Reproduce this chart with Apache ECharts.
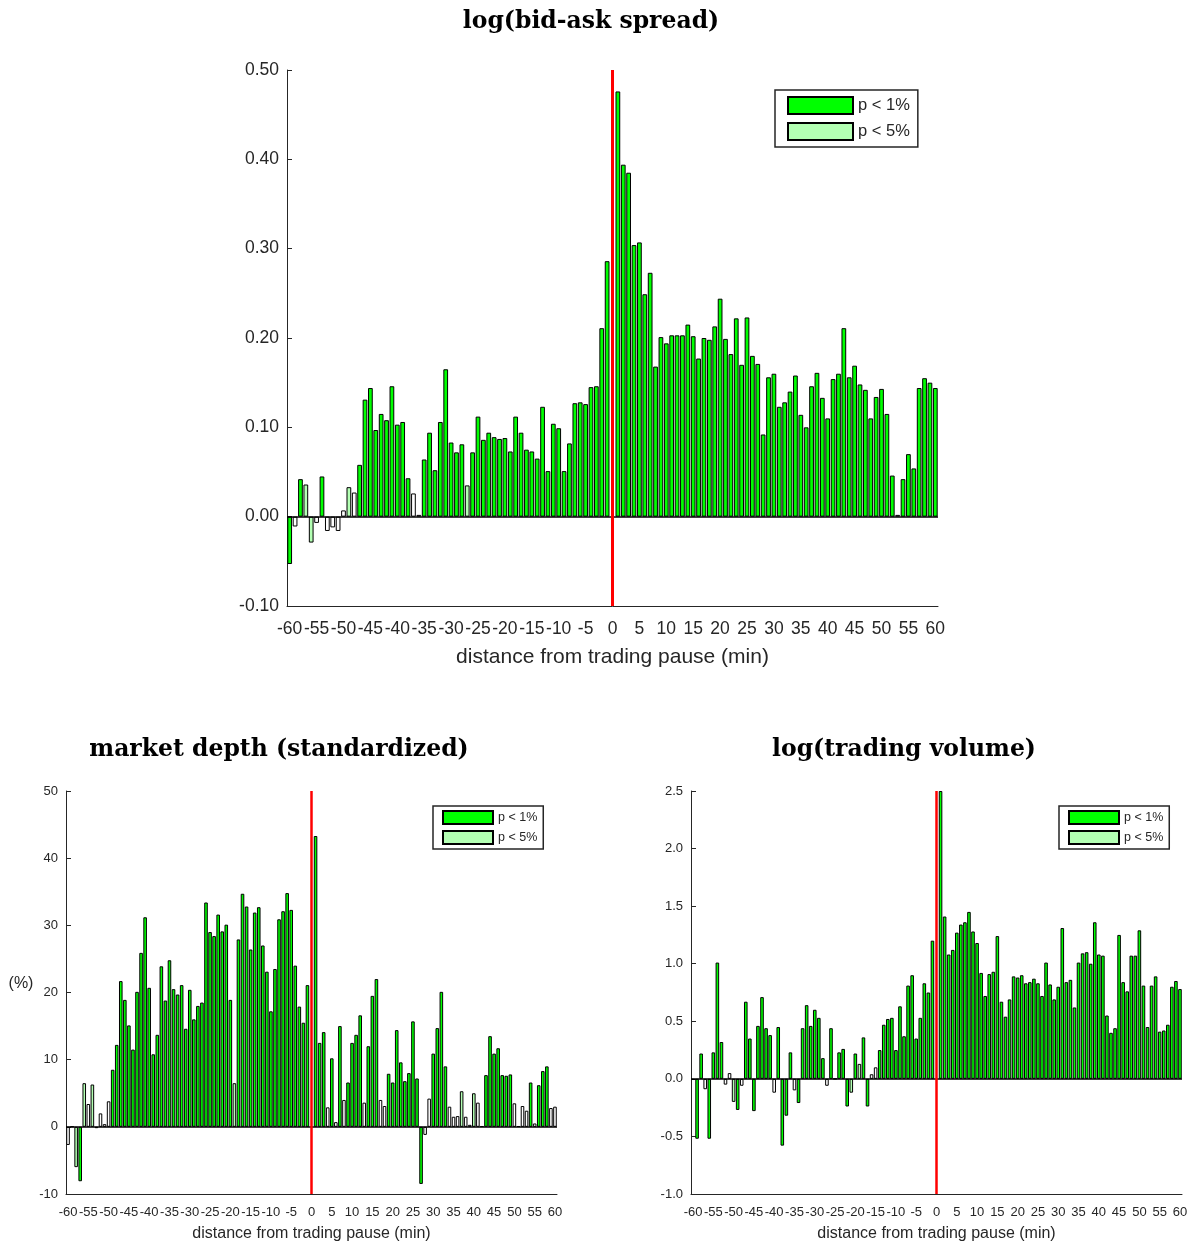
<!DOCTYPE html>
<html lang="en">
<head>
    <meta charset="UTF-8">
    <title>Trading pause event study</title>
    <script src="https://cdn.jsdelivr.net/npm/echarts@6/dist/echarts.min.js"></script>
    <style>
        * {
            margin: 0;
            padding: 0;
            box-sizing: border-box;
        }

        body {
            background: #ffffff;
        }

        #chart {
            width: 1197px;
            height: 1246px;
        }
    </style>
</head>
<body>
    <div id="chart"></div>

    <script>
        // minutes around the trading pause: -60 .. 60
        const minutes = [];
        for (let m = -60; m <= 60; m++) minutes.push(String(m));

        // significance per bar, groups of ten from -60 (G = p < 1%, L = p < 5%, W = not significant)
        const spreadSig = 'GWGLLWGWWW WLWGGGGGGG GGGWWGGGGG GGGLGGGGGG GGGGGGGGGG GGGGGGGGGG W ' +
                          'GGGGGGGGGG GGGGGGGGGG GGGGGGGGGG GGGGGGGGGG GGGGGGGGGG GGWGGGGGGG';
        const depthSig  = 'WWLGLWLWWW WGGGGGGGGG GGGGGGGGGG GGGGGGGGGG GLGGGGGGGG GGGGGGGGGG W ' +
                          'GGGWGWGWGG GGWGGGWWGG GGGGGGGWWG GGGWWWLWWL WWGGGGGGGW WWWGWGGGWW';
        const volumeSig = 'WGGWGGGGWW LGWGGGGGGG WGGGGWGGGG GGGWGWGGGL GLGGWWGGGG GGGGGGGGGG W ' +
                          'GGGGGGGGGG GGGGGGGGGG GGGGGGGGGG GGGGGGGGGG GGGGGGGGGG GGGGGGGGGG';

        // log(bid-ask spread)
        const spreadVals = [
            -0.053, -0.011, 0.042, 0.036, -0.029, -0.007, 0.045, -0.016, -0.012, -0.016,
            0.007, 0.033, 0.027, 0.058, 0.131, 0.144, 0.097, 0.115, 0.108, 0.146,
            0.103, 0.106, 0.043, 0.026, 0.002, 0.064, 0.094, 0.052, 0.106, 0.165,
            0.083, 0.072, 0.081, 0.035, 0.072, 0.112, 0.086, 0.094, 0.089, 0.087,
            0.088, 0.073, 0.112, 0.094, 0.075, 0.073, 0.065, 0.123, 0.051, 0.104,
            0.099, 0.051, 0.082, 0.127, 0.128, 0.126, 0.145, 0.146, 0.211, 0.286,
            null,
            0.476, 0.394, 0.385, 0.304, 0.307, 0.249, 0.273, 0.168, 0.201, 0.194,
            0.203, 0.203, 0.203, 0.215, 0.202, 0.177, 0.200, 0.198, 0.213, 0.244,
            0.199, 0.182, 0.222, 0.170, 0.223, 0.180, 0.171, 0.092, 0.156, 0.160,
            0.123, 0.128, 0.140, 0.158, 0.114, 0.100, 0.146, 0.161, 0.133, 0.110,
            0.154, 0.160, 0.211, 0.156, 0.169, 0.148, 0.142, 0.110, 0.134, 0.143,
            0.115, 0.046, 0.002, 0.042, 0.070, 0.054, 0.144, 0.155, 0.150, 0.144
        ];

        // market depth (standardized), in %
        const depthVals = [
            -2.7, 0.05, -6.0, -8.1, 6.5, 3.4, 6.3, -0.2, 2.0, 0.4,
            3.8, 8.5, 12.2, 21.7, 18.9, 15.1, 11.5, 20.1, 25.9, 31.2,
            20.7, 10.8, 13.7, 23.9, 18.8, 24.8, 20.5, 19.7, 21.1, 14.6,
            20.4, 16.0, 18.0, 18.5, 33.4, 29.0, 28.4, 31.6, 29.1, 30.1,
            18.9, 6.5, 27.9, 34.7, 32.8, 26.4, 31.9, 32.7, 27.0, 23.1,
            17.2, 23.5, 30.9, 32.1, 34.8, 32.3, 24.0, 17.9, 15.5, 21.1,
            null,
            43.3, 12.5, 14.1, 2.9, 10.2, 0.7, 15.0, 4.0, 6.6, 12.5,
            13.7, 16.6, 3.6, 12.0, 19.5, 22.0, 4.0, 3.1, 7.9, 6.6,
            14.4, 9.6, 6.8, 8.0, 15.7, 7.2, -8.5, -1.2, 4.2, 10.9,
            14.7, 20.1, 9.0, 3.0, 1.5, 1.6, 5.3, 1.5, 0.3, 5.0,
            3.6, 0.1, 7.7, 13.5, 10.9, 11.7, 7.7, 7.6, 7.8, 3.5,
            0.1, 3.1, 2.4, 6.6, 0.5, 6.2, 8.3, 9.0, 2.8, 3.0
        ];

        // log(trading volume)
        const volumeVals = [
            -0.01, -0.52, 0.22, -0.09, -0.52, 0.23, 1.01, 0.32, -0.05, 0.05,
            -0.20, -0.27, -0.06, 0.67, 0.35, -0.28, 0.46, 0.71, 0.44, 0.38,
            -0.12, 0.45, -0.58, -0.32, 0.23, -0.10, -0.21, 0.44, 0.64, 0.46,
            0.60, 0.53, 0.18, -0.06, 0.44, 0.00, 0.23, 0.26, -0.24, -0.12,
            0.22, 0.13, 0.36, -0.24, 0.04, 0.10, 0.25, 0.47, 0.52, 0.53,
            0.25, 0.63, 0.37, 0.81, 0.90, 0.35, 0.53, 0.83, 0.75, 1.20,
            null,
            2.50, 1.41, 1.08, 1.12, 1.27, 1.34, 1.36, 1.45, 1.28, 1.18,
            0.92, 0.72, 0.91, 0.93, 1.24, 0.67, 0.54, 0.69, 0.89, 0.88,
            0.90, 0.83, 0.84, 0.87, 0.83, 0.72, 1.01, 0.82, 0.69, 0.80,
            1.31, 0.84, 0.86, 0.62, 1.01, 1.09, 1.10, 1.00, 1.36, 1.08,
            1.07, 0.55, 0.40, 0.44, 1.25, 0.84, 0.76, 1.07, 1.07, 1.29,
            0.81, 0.45, 0.81, 0.89, 0.41, 0.42, 0.47, 0.80, 0.85, 0.78
        ];

        const sans = "'Liberation Sans', Arial, sans-serif";
        const serif = "'DejaVu Serif', serif";
        const axisColor = '#262626';
        const levels = [
            { code: 'G', name: 'p < 1%', color: '#00ff00' },
            { code: 'L', name: 'p < 5%', color: '#b3ffb3' },
            { code: 'W', name: 'n.s.', color: '#ffffff' }
        ];

        // one bar series per significance level, overlapped on the same slots
        function barSeries(idx, vals, sig, redWidth) {
            const codes = sig.replace(/ /g, '');
            return levels.map((lv, i) => {
                const s = {
                    type: 'bar',
                    name: lv.name,
                    xAxisIndex: idx,
                    yAxisIndex: idx,
                    data: vals.map((v, j) => (codes[j] === lv.code ? v : null)),
                    barGap: '-100%',
                    barCategoryGap: '12%',
                    itemStyle: { color: lv.color, borderColor: '#000000', borderWidth: 1 },
                    emphasis: { disabled: true }
                };
                if (i === levels.length - 1) {
                    s.markLine = {
                        silent: true,
                        symbol: ['none', 'none'],
                        label: { show: false },
                        data: [
                            { yAxis: 0, lineStyle: { color: '#000000', width: 1.5, type: 'solid' } },
                            { xAxis: '0', lineStyle: { color: '#ff0000', width: redWidth, type: 'solid' } }
                        ]
                    };
                }
                return s;
            });
        }

        function xAxisFor(idx, fs, nameFs, nameGap, margin) {
            return {
                type: 'category',
                gridIndex: idx,
                data: minutes,
                axisLine: { onZero: false, lineStyle: { color: axisColor } },
                axisTick: { inside: true, alignWithLabel: true, interval: 0, length: 5, lineStyle: { color: axisColor } },
                axisLabel: { interval: 4, fontSize: fs, fontFamily: sans, color: axisColor, margin: margin },
                splitLine: { show: false },
                name: 'distance from trading pause (min)',
                nameLocation: 'middle',
                nameGap: nameGap,
                nameTextStyle: { fontSize: nameFs, fontFamily: sans, color: axisColor }
            };
        }

        function yAxisFor(idx, min, max, interval, digits, fs) {
            return {
                type: 'value',
                gridIndex: idx,
                min: min,
                max: max,
                interval: interval,
                axisLine: { show: true, lineStyle: { color: axisColor } },
                axisTick: { show: true, inside: true, length: 5, lineStyle: { color: axisColor } },
                axisLabel: {
                    fontSize: fs, fontFamily: sans, color: axisColor, margin: 8,
                    formatter: v => v.toFixed(digits)
                },
                splitLine: { show: false }
            };
        }

        function legendAt(left, top, big) {
            return {
                orient: 'vertical',
                left: left,
                top: top,
                data: ['p < 1%', 'p < 5%'],
                icon: 'rect',
                itemWidth: big ? 65 : 50,
                itemHeight: big ? 17 : 13,
                itemGap: big ? 7 : 5,
                padding: big ? [6, 8, 6, 12] : [4, 6, 4, 9],
                borderColor: axisColor,
                borderWidth: 1.5,
                selectedMode: false,
                textStyle: { fontSize: big ? 16.5 : 12.5, fontFamily: sans, color: axisColor }
            };
        }

        function plainText(text, x, y, font) {
            return {
                type: 'text',
                x: x,
                y: y,
                style: Object.assign({
                    text: text,
                    fill: '#000000',
                    align: 'center',
                    verticalAlign: 'middle'
                }, font)
            };
        }

        const titleFont = { fontFamily: serif, fontWeight: 'bold', fontSize: 23.5 };

        const chart = echarts.init(document.getElementById('chart'));
        chart.setOption({
            animation: false,
            backgroundColor: '#ffffff',
            grid: [
                { left: 287, top: 70, width: 651, height: 536 },
                { left: 66, top: 791, width: 491, height: 403 },
                { left: 691, top: 791, width: 491, height: 403 }
            ],
            xAxis: [
                xAxisFor(0, 17.5, 21, 41, 14),
                xAxisFor(1, 13, 16, 32, 12),
                xAxisFor(2, 13, 16, 32, 12)
            ],
            yAxis: [
                yAxisFor(0, -0.1, 0.5, 0.1, 2, 17.5),
                yAxisFor(1, -10, 50, 10, 0, 13),
                yAxisFor(2, -1, 2.5, 0.5, 1, 13)
            ],
            legend: [
                legendAt(775, 90, true),
                legendAt(433, 806, false),
                legendAt(1059, 806, false)
            ],
            graphic: [
                plainText('log(bid-ask spread)', 591, 22, titleFont),
                plainText('market depth (standardized)', 279, 750, titleFont),
                plainText('log(trading volume)', 904, 750, titleFont),
                plainText('(%)', 21, 984, { fontFamily: sans, fontSize: 16, fill: axisColor })
            ],
            series: [].concat(
                barSeries(0, spreadVals, spreadSig, 3),
                barSeries(1, depthVals, depthSig, 2.5),
                barSeries(2, volumeVals, volumeSig, 2.5)
            )
        });

        window.addEventListener('resize', function() {
            chart.resize();
        });
    </script>
</body>
</html>
